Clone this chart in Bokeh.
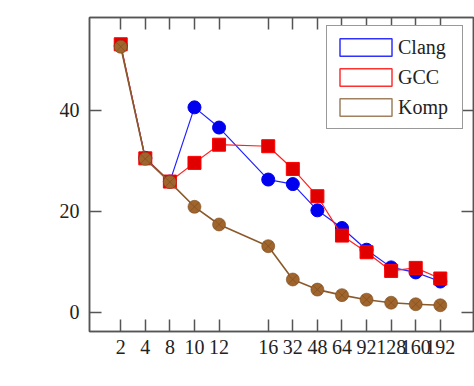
from bokeh.plotting import figure
from bokeh.models import Range1d, FixedTicker, LinearAxis, ColumnDataSource, CustomJSTickFormatter
from bokeh.embed import file_html
from bokeh.resources import INLINE

# thread counts on the x axis (an empty slot is left between 12 and 16)
threads = ["2", "4", "8", "10", "12", "16", "32", "48", "64", "92", "128", "160", "192"]
clang = [52.8, 30.6, 25.9, 40.6, 36.6, 26.3, 25.4, 20.2, 16.7, 12.4, 8.9, 7.9, 6.1]
gcc = [53.1, 30.5, 25.9, 29.6, 33.2, 32.9, 28.4, 23.0, 15.2, 11.9, 8.2, 8.8, 6.7]
komp = [52.6, 30.4, 25.8, 20.9, 17.4, 13.1, 6.5, 4.5, 3.4, 2.5, 1.9, 1.6, 1.4]

slots = [i + (1 if i >= 5 else 0) for i in range(len(threads))]

FONT = "Liberation Serif"
AXIS_COLOR = "#555555"

p = figure(width=474, height=386, output_backend="svg", toolbar_location=None,
           x_range=Range1d(-1.27, 14.35), y_range=Range1d(-3.8, 58.4),
           min_border_left=89, min_border_right=1, min_border_top=17, min_border_bottom=55)
p.frame_width = 384
p.frame_height = 314
p.xgrid.visible = False
p.ygrid.visible = False
p.background_fill_color = "white"
p.border_fill_color = "white"
p.outline_line_color = AXIS_COLOR
p.outline_line_width = 1.5

src = ColumnDataSource(dict(x=slots, clang=clang, gcc=gcc, komp=komp))

# Clang
p.line("x", "clang", source=src, line_color="#2020ff", line_width=1.2)
p.scatter("x", "clang", source=src, marker="circle", size=13,
          fill_color="#0000ee", line_color="#0000ee")
# GCC
p.line("x", "gcc", source=src, line_color="#ff2020", line_width=1.2)
p.scatter("x", "gcc", source=src, marker="square", size=13,
          fill_color="#e00000", line_color="#ff0000")
# Komp
p.line("x", "komp", source=src, line_color="#8b5a2b", line_width=1.6)
p.scatter("x", "komp", source=src, marker="circle_x", size=13,
          fill_color="#a0652d", line_color="#7a4a1c", line_alpha=0.6, line_width=1)

# legend entries drawn as outlined boxes (placeholder rows are never plotted)
nan = float("nan")
for name, color in [("Clang", "#3030ff"), ("GCC", "#ff3030"), ("Komp", "#a08060")]:
    p.rect(x="x", y="y", width=1, height=1, source=ColumnDataSource(dict(x=[nan], y=[nan])),
           fill_color="white", line_color=color, line_width=1.5, legend_label=name)

xt = FixedTicker(ticks=slots)
yt = FixedTicker(ticks=[0, 20, 40])
blank = CustomJSTickFormatter(code="return ''")


def style(ax, labels=True):
    ax.major_tick_in = 12
    ax.major_tick_out = 0
    ax.minor_tick_in = 0
    ax.minor_tick_out = 0
    ax.major_tick_line_color = AXIS_COLOR
    ax.major_tick_line_width = 1.5
    ax.axis_line_color = AXIS_COLOR
    ax.axis_line_width = 1.5
    ax.major_label_text_font = FONT
    ax.major_label_text_color = "#222222"
    ax.major_label_text_font_size = "20px"
    if not labels:
        ax.formatter = blank
        ax.major_label_standoff = 0


xa = p.xaxis[0]
xa.ticker = xt
xa.major_label_overrides = {s: t for s, t in zip(slots, threads)}
style(xa)
xa.major_label_standoff = 8

ya = p.yaxis[0]
ya.ticker = yt
style(ya)
ya.major_label_standoff = 10

top = LinearAxis(ticker=xt)
style(top, labels=False)
p.add_layout(top, "above")
right = LinearAxis(ticker=yt)
style(right, labels=False)
p.add_layout(right, "right")

lg = p.legend[0]
lg.location = (237, 202)
lg.margin = 0
lg.padding = 6
lg.spacing = 0
lg.glyph_width = 65
lg.glyph_height = 22
lg.label_height = 30
lg.label_width = 58
lg.label_standoff = 0
lg.label_text_font = FONT
lg.label_text_font_size = "20px"
lg.label_text_color = "#222222"
lg.border_line_color = "#333333"
lg.border_line_width = 1.5
lg.background_fill_alpha = 1.0

open("out.html", "w").write(file_html(p, INLINE))
